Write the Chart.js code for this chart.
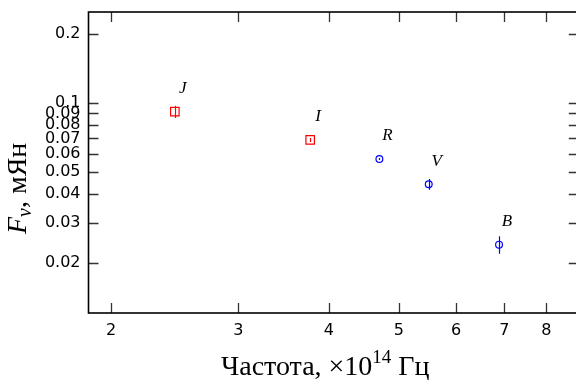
<!DOCTYPE html>
<html>
<head>
<meta charset="utf-8">
<script src="https://cdn.jsdelivr.net/npm/chart.js@4"></script>
<style>
  html, body { margin: 0; padding: 0; background: #fff; overflow: hidden; }
  #wrap { width: 586px; height: 380px; }
</style>
</head>
<body>
<div id="wrap"><canvas id="myChart" width="586" height="380"></canvas></div>
<script>
// фотометрия по полосам
const bands = ["J", "I", "R", "V", "B"];
const freq = [2.45, 3.77, 4.70, 5.50, 6.88];        // x10^14 Гц
const flux = [0.0916, 0.0689, 0.0569, 0.0441, 0.0240]; // мЯн
const fluxErr = [0.0056, 0.0014, 0.0006, 0.0024, 0.0021];
const irBands = ["J", "I"];

const xTicks = [2, 3, 4, 5, 6, 7, 8];
const yTicks = [0.02, 0.03, 0.04, 0.05, 0.06, 0.07, 0.08, 0.09, 0.1, 0.2];

function pts(filter) {
  const out = [];
  for (let i = 0; i < bands.length; i++) {
    if (filter(bands[i])) out.push({ x: freq[i], y: flux[i], i: i });
  }
  return out;
}

// надписи, ошибки и рамка с тиками внутрь
const extras = {
  id: "extras",
  afterDatasetsDraw(chart) {
    const ctx = chart.ctx;
    const xs = chart.scales.x, ys = chart.scales.y;
    ctx.save();
    chart.data.datasets.forEach((ds) => {
      ctx.strokeStyle = ds.borderColor;
      ctx.lineWidth = 1.2;
      ds.data.forEach((p) => {
        const px = Math.round(xs.getPixelForValue(p.x)) + 0.5;
        ctx.beginPath();
        ctx.moveTo(px, ys.getPixelForValue(flux[p.i] + fluxErr[p.i]));
        ctx.lineTo(px, ys.getPixelForValue(flux[p.i] - fluxErr[p.i]));
        ctx.stroke();
      });
    });
    ctx.fillStyle = "#000";
    ctx.font = "italic 17px 'Liberation Serif'";
    ctx.textAlign = "center";
    ctx.textBaseline = "middle";
    for (let i = 0; i < bands.length; i++) {
      ctx.fillText(bands[i], xs.getPixelForValue(freq[i]) + 8, ys.getPixelForValue(flux[i]) - 23);
    }
    ctx.restore();
  },
  afterDraw(chart) {
    const ctx = chart.ctx;
    const a = chart.chartArea;
    const xs = chart.scales.x, ys = chart.scales.y;
    const tl = 10;
    ctx.save();
    ctx.strokeStyle = "#333";
    ctx.lineWidth = 1.3;
    ctx.beginPath();
    xTicks.forEach((v) => {
      const px = Math.round(xs.getPixelForValue(v)) + 0.5;
      ctx.moveTo(px, a.bottom); ctx.lineTo(px, a.bottom - tl);
      ctx.moveTo(px, a.top); ctx.lineTo(px, a.top + tl);
    });
    yTicks.forEach((v) => {
      const py = Math.round(ys.getPixelForValue(v)) + 0.5;
      ctx.moveTo(a.left, py); ctx.lineTo(a.left + tl, py);
      ctx.moveTo(a.right, py); ctx.lineTo(a.right - tl, py);
    });
    ctx.stroke();
    ctx.strokeStyle = "#000";
    ctx.lineWidth = 1.6;
    ctx.strokeRect(a.left, a.top, a.right - a.left, a.bottom - a.top);

    // подписи осей
    ctx.fillStyle = "#000";
    ctx.textBaseline = "alphabetic";
    ctx.textAlign = "left";
    let x = 221;
    ctx.font = "28px 'Liberation Serif'";
    ctx.fillText("Частота, ×10", x, 375);
    x += ctx.measureText("Частота, ×10").width;
    ctx.font = "19px 'Liberation Serif'";
    ctx.fillText("14", x, 363);
    x += ctx.measureText("14").width;
    ctx.font = "28px 'Liberation Serif'";
    ctx.fillText(" Гц", x, 375);

    ctx.translate(26, 234);
    ctx.rotate(-Math.PI / 2);
    let y = 0;
    ctx.font = "italic 28px 'Liberation Serif'";
    ctx.fillText("F", y, 0);
    y += ctx.measureText("F").width;
    ctx.font = "italic 20px 'Liberation Serif'";
    ctx.fillText("ν", y, 5);
    y += ctx.measureText("ν").width;
    ctx.font = "28px 'Liberation Serif'";
    ctx.fillText(", мЯн", y, 0);
    ctx.restore();
  }
};

const myChart = document.getElementById("myChart");
new Chart(myChart, {
  type: "scatter",
  data: {
    datasets: [
      {
        label: "IR",
        data: pts((b) => irBands.includes(b)),
        borderColor: "red",
        backgroundColor: "transparent",
        pointStyle: "rect",
        pointRadius: 6,
        pointBorderWidth: 1.2,
      },
      {
        label: "opt",
        data: pts((b) => !irBands.includes(b)),
        borderColor: "blue",
        backgroundColor: "transparent",
        pointStyle: "circle",
        pointRadius: 3.4,
        pointBorderWidth: 1.2,
      },
    ],
  },
  options: {
    responsive: false,
    animation: false,
    layout: { padding: { top: 12, right: 0, left: 0, bottom: 0 } },
    plugins: { legend: { display: false }, tooltip: { enabled: false } },
    scales: {
      x: {
        type: "logarithmic",
        min: 1.861,
        max: 8.87,
        grid: { display: false, drawTicks: false },
        border: { display: false },
        afterBuildTicks: (s) => { s.ticks = xTicks.map((v) => ({ value: v })); },
        afterFit: (s) => { s.height = 67; s.paddingLeft = 0; s.paddingRight = 0; },
        ticks: {
          autoSkip: false,
          maxRotation: 0,
          padding: 8,
          color: "#000",
          font: { family: "'DejaVu Sans'", size: 16 },
          callback: (v) => String(v),
        },
      },
      y: {
        type: "logarithmic",
        min: 0.01206,
        max: 0.25,
        grid: { display: false, drawTicks: false },
        border: { display: false },
        afterBuildTicks: (s) => { s.ticks = yTicks.map((v) => ({ value: v })); },
        afterFit: (s) => { s.width = 88.5; s.paddingTop = 0; s.paddingBottom = 0; },
        ticks: {
          autoSkip: false,
          padding: 8,
          color: "#000",
          font: { family: "'DejaVu Sans'", size: 16 },
          callback: (v) => String(v),
        },
      },
    },
  },
  plugins: [extras],
});
</script>
</body>
</html>
